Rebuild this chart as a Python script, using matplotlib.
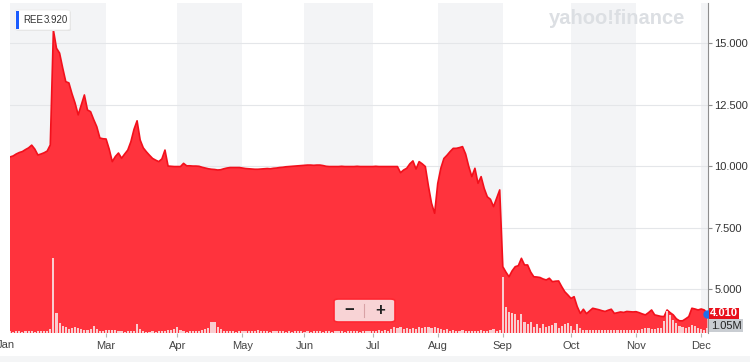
import numpy as np
import matplotlib
matplotlib.use('Agg')
import matplotlib.pyplot as plt
from matplotlib.patches import Rectangle, FancyBboxPatch
from matplotlib.ticker import FuncFormatter

plt.rcParams['font.family'] = ['Liberation Sans', 'DejaVu Sans']

##########################################################################################

# DADOS (um valor por pregao)

preco = [
    10.38, 10.42, 10.50, 10.56, 10.60, 10.68, 10.75, 10.86, 10.70, 10.46,
    10.50, 10.55, 10.62, 10.87, 15.54, 14.80, 14.60, 14.00, 13.44, 13.39,
    12.95, 12.57, 12.09, 12.50, 12.90, 12.29, 12.22, 11.90, 11.61, 11.15,
    11.12, 11.11, 10.70, 10.19, 10.40, 10.54, 10.33, 10.50, 10.66, 11.00,
    11.50, 11.85, 11.07, 10.75, 10.59, 10.45, 10.32, 10.25, 10.19, 10.30,
    10.66, 10.01, 10.00, 9.99, 9.99, 9.99, 10.12, 10.02, 10.02, 10.01,
    10.01, 10.00, 9.96, 9.93, 9.90, 9.88, 9.87, 9.85, 9.86, 9.90,
    9.93, 9.95, 9.95, 9.95, 9.95, 9.93, 9.91, 9.90, 9.89, 9.88,
    9.88, 9.89, 9.90, 9.91, 9.90, 9.92, 9.93, 9.95, 9.96, 9.98,
    9.99, 10.00, 10.01, 10.02, 10.03, 10.04, 10.05, 10.05, 10.04, 10.05,
    10.05, 10.03, 10.00, 9.99, 9.99, 9.99, 9.99, 10.00, 9.99, 9.99,
    9.99, 9.99, 10.00, 9.99, 9.99, 9.99, 9.99, 9.99, 10.00, 9.99,
    9.99, 9.99, 9.99, 9.99, 9.99, 9.99, 9.74, 9.85, 9.92, 10.10,
    10.22, 9.89, 10.19, 10.10, 9.99, 9.20, 8.50, 8.09, 9.30, 9.92,
    10.32, 10.45, 10.60, 10.73, 10.73, 10.76, 10.80, 10.50, 10.00, 9.58,
    9.92, 9.31, 9.58, 9.10, 8.76, 8.66, 8.36, 8.70, 9.04, 5.92,
    5.70, 5.51, 5.75, 5.92, 5.96, 6.26, 5.99, 5.99, 5.70, 5.51,
    5.50, 5.48, 5.42, 5.38, 5.45, 5.31, 5.33, 5.34, 5.11, 4.90,
    4.77, 4.63, 4.70, 4.30, 4.02, 4.19, 4.01, 4.12, 4.23, 4.20,
    4.17, 4.13, 4.10, 4.15, 4.19, 4.02, 4.05, 4.08, 4.06, 4.10,
    4.09, 4.08, 4.09, 4.05, 4.00, 3.96, 4.05, 4.16, 3.96, 3.93,
    3.90, 3.89, 4.16, 4.05, 3.96, 3.80, 3.72, 3.72, 3.80, 3.89,
    4.23, 4.20, 4.16, 4.20, 4.16, 4.01,
]

# volume em milhoes
volume = [
    0.35, 0.30, 0.40, 0.35, 0.30, 0.40, 0.45, 0.35, 0.30, 0.40,
    0.40, 0.45, 0.40, 0.80, 15.0, 4.0, 2.0, 1.4, 1.2, 0.8,
    1.0, 1.2, 1.0, 0.8, 0.7, 0.6, 0.9, 1.4, 0.8, 0.5,
    0.4, 0.6, 0.6, 0.6, 0.6, 0.5, 0.4, 0.3, 0.4, 0.4,
    0.4, 1.8, 0.8, 0.4, 0.3, 0.3, 0.4, 0.3, 0.4, 0.4,
    0.5, 0.6, 0.7, 0.8, 1.2, 0.6, 0.4, 0.3, 0.4, 0.4,
    0.5, 0.4, 0.6, 0.8, 1.0, 2.2, 2.2, 1.2, 0.8, 0.5,
    0.4, 0.4, 0.5, 0.3, 0.4, 0.5, 0.4, 0.4, 0.5, 0.4,
    0.6, 0.5, 0.4, 0.4, 0.3, 0.4, 0.4, 0.5, 0.4, 0.3,
    0.4, 0.3, 0.4, 0.5, 0.4, 0.3, 0.4, 0.3, 0.4, 0.4,
    0.4, 0.3, 0.5, 0.4, 0.3, 0.4, 0.5, 0.4, 0.3, 0.4,
    0.4, 0.5, 0.4, 0.3, 0.4, 0.5, 0.4, 0.4, 0.5, 0.6,
    0.5, 0.6, 0.5, 0.8, 1.2, 1.0, 1.2, 0.8, 1.0, 0.8,
    1.0, 0.8, 1.2, 1.0, 1.2, 1.2, 1.0, 1.2, 1.1, 0.9,
    0.7, 0.8, 0.5, 0.6, 0.4, 0.5, 0.6, 0.5, 0.4, 0.5,
    0.4, 0.5, 0.6, 0.5, 0.4, 0.7, 0.8, 0.5, 0.6, 11.2,
    5.2, 4.2, 4.0, 3.8, 2.6, 3.8, 2.2, 1.8, 2.2, 1.2,
    1.8, 1.0, 1.8, 1.2, 1.4, 1.6, 2.0, 1.0, 1.4, 1.8,
    2.0, 1.4, 0.6, 1.8, 1.0, 0.6, 0.7, 0.6, 0.6, 0.7,
    0.6, 0.7, 0.6, 0.7, 0.6, 0.7, 0.6, 0.7, 0.6, 0.7,
    0.6, 0.7, 0.6, 0.7, 0.8, 1.0, 1.0, 0.8, 0.8, 1.0,
    1.0, 2.4, 4.4, 3.6, 2.6, 2.0, 1.4, 1.2, 1.0, 1.2,
    1.6, 1.4, 1.0, 0.8, 0.6, 1.05,
]

meses = ['Mar', 'Apr', 'May', 'Jun', 'Jul', 'Aug', 'Sep', 'Oct', 'Nov', 'Dec']
pos_meses = [31, 54, 75, 95, 117, 138, 159, 181, 202, 223]
ticks_y = [5, 7.5, 10, 12.5, 15]

ticker = 'REE'
valor_topo = '3.920'
ultimo_preco = '4.010'
ultimo_volume = '1.05M'

##########################################################################################

W, H = 750, 362


def fx(px):
    return px / W


def fy(py):
    return 1 - py / H


fig = plt.figure(figsize=(7.5, 3.62), dpi=100)
fig.patch.set_facecolor('white')

ax = fig.add_axes([fx(10), fy(333), fx(708) - fx(10), fy(3) - fy(333)])
# eixo do volume criado antes (twinx muda os ticks do eixo principal)
axv = ax.twinx()

x = np.arange(len(preco))
x_max = len(preco) - 0.8
ax.set_xlim(0, x_max)
ax.set_ylim(3.224, 16.638)

# faixas alternadas por mes
limites = [0] + pos_meses + [x_max]
for i in range(len(limites) - 1):
    if i % 2 == 0:
        ax.axvspan(limites[i], limites[i + 1], color='#f3f4f6', lw=0, zorder=0)

ax.set_yticks(ticks_y)
ax.grid(axis='y', color='#e4e6e9', lw=0.8, zorder=0.5)
ax.set_axisbelow(True)

# area do preco
ax.fill_between(x, preco, 0, color='#ff333d', lw=0, zorder=2)
ax.plot(x, preco, color='#f2101c', lw=1.2, zorder=3)

# eixos
for lado in ['top', 'left', 'bottom']:
    ax.spines[lado].set_visible(False)
ax.spines['right'].set_color('#8e8e8e')
ax.spines['right'].set_linewidth(0.8)
ax.yaxis.tick_right()
ax.yaxis.set_major_formatter(FuncFormatter(lambda v, p: f'{v:.3f}'))
ax.tick_params(axis='y', length=3, width=0.8, color='#8e8e8e', labelsize=8,
               labelcolor='#333333', pad=1.5)
ax.set_xticks(pos_meses)
ax.set_xticklabels(meses)
ax.tick_params(axis='x', length=3, width=0.8, color='#b5b5b5', labelsize=8,
               labelcolor='#444444', pad=3)
ax.text(-1.5, -0.036, 'Jan', transform=ax.get_xaxis_transform(), ha='center',
        va='center', fontsize=8, color='#444444')

# volume por cima
axv.set_ylim(0, 66)
axv.set_xlim(0, x_max)
axv.bar(x, volume, width=0.7, color='#f9cdd0', lw=0, zorder=3)
axv.set_yticks([])
for lado in axv.spines:
    axv.spines[lado].set_visible(False)

# ponto azul no ultimo valor (desenhado no eixo de cima, coordenadas do preco)
axv.plot(x[-1], preco[-1], 'o', transform=ax.transData, color='#1f6feb', ms=5,
         clip_on=False, zorder=6)

##########################################################################################

# ELEMENTOS DA INTERFACE

# faixa cinza embaixo
fig.patches.append(Rectangle((0, 0), 1, fy(356), transform=fig.transFigure,
                             color='#f4f5f6', lw=0))

# rotulos do lado direito
fig.patches.append(Rectangle((fx(709), fy(319)), fx(739) - fx(709), fy(308) - fy(319),
                             transform=fig.transFigure, color='#e8101b', lw=0))
fig.patches.append(Rectangle((fx(709), fy(332)), fx(743) - fx(709), fy(319) - fy(332),
                             transform=fig.transFigure, color='#c9cdd2', lw=0))
fig.text(fx(724), fy(313.5), ultimo_preco, ha='center', va='center', fontsize=8,
         color='white', fontweight='bold')
fig.text(fx(726), fy(326), ultimo_volume, ha='center', va='center', fontsize=8,
         color='#222222')

# caixa do ticker
fig.patches.append(FancyBboxPatch((fx(16), fy(31)), fx(71) - fx(16), fy(11) - fy(31),
                                  boxstyle='round,pad=0,rounding_size=0.004',
                                  transform=fig.transFigure, fc='#e2e2e2', ec='none'))
fig.patches.append(FancyBboxPatch((fx(15), fy(30)), fx(70) - fx(15), fy(10) - fy(30),
                                  boxstyle='round,pad=0,rounding_size=0.004',
                                  transform=fig.transFigure, fc='white', ec='#ececec', lw=0.6))
fig.patches.append(Rectangle((fx(16), fy(29)), fx(19) - fx(16), fy(11) - fy(29),
                             transform=fig.transFigure, color='#1a5cff', lw=0))
fig.text(fx(23), fy(20), ticker, ha='left', va='center', fontsize=7, color='#333333')
fig.text(fx(44), fy(20), valor_topo, ha='left', va='center', fontsize=7, color='#333333')

# marca d'agua
fig.text(fx(617), fy(19), 'yahoo!finance', ha='center', va='center', fontsize=14.5,
         fontweight='bold', color='#dcdfe3')

# botoes de zoom
fig.patches.append(FancyBboxPatch((fx(334), fy(322)), fx(395) - fx(334), fy(299) - fy(322),
                                  boxstyle='round,pad=0,rounding_size=0.006',
                                  transform=fig.transFigure, fc='#f8d3d5', ec='#ff2631', lw=1.2))
fig.add_artist(plt.Line2D([fx(364), fx(364)], [fy(317), fy(304)], transform=fig.transFigure,
                          color='#d8a2a6', lw=0.8))
fig.text(fx(349), fy(310), '\u2212', ha='center', va='center', fontsize=12,
         fontweight='bold', color='#222222')
fig.text(fx(380), fy(310), '+', ha='center', va='center', fontsize=12,
         fontweight='bold', color='#222222')

plt.savefig('out.png', dpi=100)
